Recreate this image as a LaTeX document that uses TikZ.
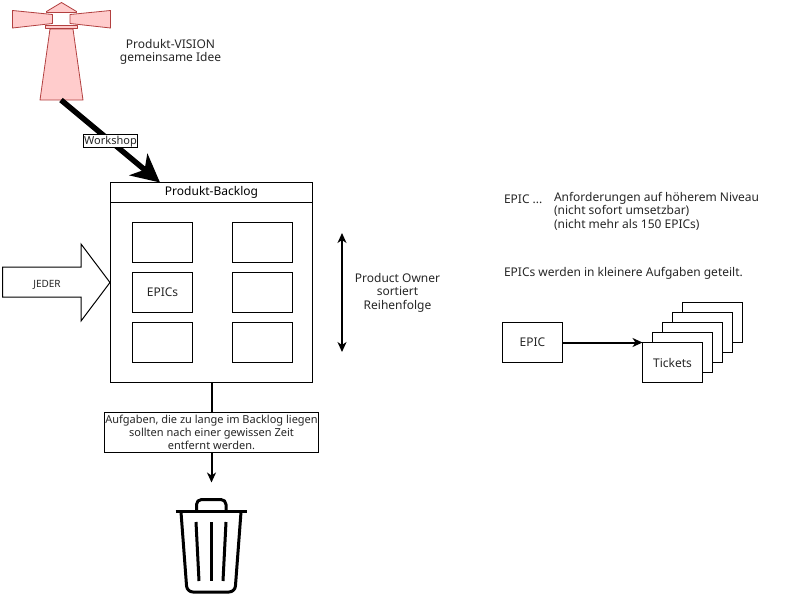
\documentclass[tikz,border=0pt]{standalone}
\usepackage{fontspec}
\setmainfont{Noto Sans}
\usetikzlibrary{positioning, arrows.meta}

\begin{document}
\begin{tikzpicture}[
  x=1pt, y=-1pt,
  every node/.style={font=\fontsize{12}{14}\selectfont, align=center, inner sep=0pt, outer sep=0pt},
  card/.style={draw, fill=white, line width=1pt, minimum width=60pt, minimum height=40pt},
  plain/.style={text=black!85},
  small/.style={font=\fontsize{11}{14}\selectfont},
  tower/.style={fill=red!20, draw=red!60!black!75, line width=0.8pt, line join=round},
  arr/.style={-{Stealth[length=10pt, width=9pt, inset=3pt]}, line width=2pt},
  bigarr/.style={-{Stealth[length=28pt, width=28pt, inset=8pt]}, line width=5.5pt},
  can/.style={line width=3pt, line cap=round, line join=round}
]
\useasboundingbox (0,0) rectangle (785,613);

% ---------- Lighthouse ----------
\filldraw[tower] (61.5,2.5) -- (76.5,11.5) -- (76.5,12.5) -- (46.5,12.5) -- (46.5,11.5) -- cycle; % roof
\filldraw[tower] (12.5,10.5) -- (52.5,14.5) -- (52.5,23.5) -- (12.5,28) -- cycle;                 % left beam
\filldraw[tower] (110.5,10.5) -- (70,14.5) -- (70,23.5) -- (110.5,28) -- cycle;                   % right beam
\filldraw[tower] (50,29) -- (40,100) -- (83,100) -- (73,29) -- cycle;                             % tower
\filldraw[tower] (45.5,25.5) rectangle (77.5,28.5);                                               % gallery
\coordinate (lighthouse) at (61,100);
\node[plain] (vision) at (170.5,52) {Produkt-VISION\\[-0.4pt]gemeinsame Idee};

% ---------- Produkt-Backlog ----------
\node[draw, line width=1pt, minimum width=202pt, minimum height=200pt] (backlog) at (211.5,282.5) {};
\node[draw, line width=1pt, minimum width=202pt, minimum height=20pt, font=\fontsize{12}{14}\selectfont\bfseries]
  (backloghead) at (211.5,192.5) {Produkt-Backlog};
\coordinate (backlogin) at (160,182.5);

\node[card] (epicA) at (162.5,242.5) {};
\node[card] (epicB) at (262.5,242.5) {};
\node[card, plain] (epicC) at (162.5,292.5) {EPICs};
\node[card] (epicD) at (262.5,292.5) {};
\node[card] (epicE) at (162.5,342.5) {};
\node[card] (epicF) at (262.5,342.5) {};

% ---------- Workshop ----------
\draw[bigarr] (lighthouse) -- (backlogin)
  node[pos=0.5, draw, fill=white, line width=0.8pt, small, plain, minimum width=54pt, minimum height=13pt] (workshop) {Workshop};

% ---------- JEDER ----------
\draw[line width=1pt, line join=miter, fill=white]
  (2.5,267) -- (81,267) -- (81,244) -- (110,282.5) -- (81,321) -- (81,297) -- (2.5,297) -- cycle;
\node[plain, font=\fontsize{10}{12}\selectfont] (jeder) at (47,284.5) {JEDER};

% ---------- Product Owner ----------
\coordinate (sortup) at (342,233);
\coordinate (sortdown) at (342,352);
\draw[{Stealth[length=10pt, width=9pt, inset=3pt]}-{Stealth[length=10pt, width=9pt, inset=3pt]}, line width=1.5pt] (sortup) -- (sortdown);
\node[plain] (owner) at (397.5,292.5) {Product Owner\\[-0.4pt]sortiert\\[-0.4pt]Reihenfolge};

% ---------- Entfernen ----------
\coordinate (trashin) at (211.5,482.5);
\draw[arr] (backlog.south) -- (trashin);
\node[draw, fill=white, line width=1pt, small, plain, minimum width=214pt, minimum height=40pt]
  (remove) at (211.5,432.5) {Aufgaben, die zu lange im Backlog liegen\\[-0.7pt]sollten nach einer gewissen Zeit\\[-0.7pt]entfernt werden.};

% ---------- Trash can ----------
\draw[can, line cap=butt] (175.5,511.5) -- (247,511.5);                                          % lid
\draw[can, line cap=butt, rounded corners=5pt] (196.5,511) -- (196.5,499.5) -- (226,499.5) -- (226,511); % handle
\draw[can, line cap=butt, rounded corners=6pt] (181,512) -- (187,592) -- (235,592) -- (241,512);  % body
\draw[can, line cap=butt] (196,522) -- (199,581);
\draw[can, line cap=butt] (211,522) -- (211,581);
\draw[can, line cap=butt] (226,522) -- (223,581);

% ---------- EPIC text ----------
\node[plain, anchor=west] (epicdots) at (504,199) {EPIC ...};
\node[plain, anchor=north west, align=left] (epicinfo) at (554,192) {Anforderungen auf höherem Niveau\\[-0.4pt](nicht sofort umsetzbar)\\[-0.4pt](nicht mehr als 150 EPICs)};
\node[plain, anchor=west] (split) at (504,273) {EPICs werden in kleinere Aufgaben geteilt.};

% ---------- Tickets ----------
\node[card, plain] (epic) at (532.5,342.5) {EPIC};
\node[card] (ticketE) at (712.5,322.5) {};
\node[card] (ticketD) at (702.5,332.5) {};
\node[card] (ticketC) at (692.5,342.5) {};
\node[card] (ticketB) at (682.5,352.5) {};
\node[card, plain] (ticketA) at (672.5,362.5) {Tickets};
\draw[arr] (epic.east) -- (ticketA.north west);

\end{tikzpicture}
\end{document}
